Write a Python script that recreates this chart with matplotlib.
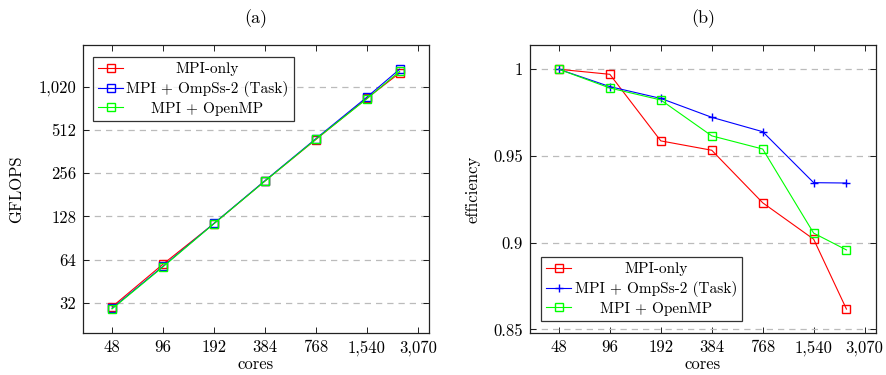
import numpy as np
import matplotlib
matplotlib.use("Agg")
import matplotlib.pyplot as plt
from matplotlib.ticker import FixedLocator, NullLocator

plt.rcParams['font.family'] = ['cmr10', 'DejaVu Serif']
plt.rcParams['mathtext.fontset'] = 'cm'
plt.rcParams['axes.formatter.use_mathtext'] = True

# data
cores = [48, 96, 192, 384, 768, 1536, 2400]
xticks = [48, 96, 192, 384, 768, 1536, 3072]
xtick_labels = ['48', '96', '192', '384', '768', '1,540', '3,070']

gflops_mpi = [30.0, 59.5, 114.0, 226.0, 440.0, 852.0, 1280.0]
gflops_ompss = [29.3, 57.5, 114.5, 227.0, 446.0, 868.0, 1360.0]
gflops_omp = [29.0, 57.0, 114.0, 225.5, 442.0, 845.0, 1315.0]
gf_ticks = [32, 64, 128, 256, 512, 1024]
gf_labels = ['32', '64', '128', '256', '512', '1,020']

eff_mpi = [1.0, 0.9971, 0.9587, 0.9533, 0.9230, 0.9020, 0.8617]
eff_ompss = [1.0, 0.9900, 0.9832, 0.9723, 0.9640, 0.9346, 0.9344]
eff_omp = [1.0, 0.9892, 0.9823, 0.9616, 0.9540, 0.9055, 0.8958]
eff_ticks = [0.85, 0.9, 0.95, 1.0]
eff_labels = ['0.85', '0.9', '0.95', '1']

labels = ['MPI-only', 'MPI + OmpSs-2 (Task)', 'MPI + OpenMP']
colors = ['#ff0000', '#0000ff', '#00ff00']

fig = plt.figure(figsize=(8.86, 3.75), dpi=100)
ax1 = fig.add_axes([0.0937, 0.112, 0.3905, 0.768])
ax2 = fig.add_axes([0.598, 0.112, 0.3905, 0.768])

FS = 12


def style(ax):
    ax.set_xscale('log', base=2)
    ax.xaxis.set_major_locator(FixedLocator(xticks))
    ax.xaxis.set_minor_locator(NullLocator())
    ax.set_xticklabels(xtick_labels)
    ax.set_xlim(48 / 2 ** 0.57, 3072 * 2 ** 0.22)
    ax.tick_params(direction='in', top=True, right=True, length=4, width=0.6,
                   labelsize=FS, colors='black', pad=5)
    ax.tick_params(which='minor', left=False, right=False)
    for s in ax.spines.values():
        s.set_linewidth(0.9)
        s.set_color('#222222')
    ax.yaxis.grid(True, linestyle=(0, (5, 4)), color='#bbbbbb', linewidth=0.9)
    ax.set_axisbelow(True)
    ax.set_xlabel('cores', fontsize=FS, labelpad=1)


def add_legend(ax, loc, anchor):
    leg = ax.legend(loc=loc, bbox_to_anchor=anchor, borderaxespad=0,
                    fontsize=FS - 1, frameon=True, fancybox=False, edgecolor='black',
                    handlelength=1.65, handletextpad=0.2, labelspacing=0.3,
                    borderpad=0.35)
    leg.get_frame().set_linewidth(0.9)
    return leg


# legend labels centred like pgfplots
def center_legend(leg):
    fig.canvas.draw()
    r = fig.canvas.get_renderer()
    texts = leg.get_texts()
    ws = [t.get_window_extent(r).width for t in texts]
    mw = max(ws)
    for t, w in zip(texts, ws):
        t.set_x((mw - w) / 2)


def line(ax, y, i, marker='s'):
    ax.plot(cores, y, color=colors[i], marker=marker, label=labels[i],
            linewidth=0.8, markersize=5.5, markerfacecolor='none',
            markeredgecolor=colors[i], markeredgewidth=1.0)


# (a)
line(ax1, gflops_mpi, 0)
line(ax1, gflops_ompss, 1)
line(ax1, gflops_omp, 2)
style(ax1)
ax1.set_yscale('log', base=2)
ax1.yaxis.set_major_locator(FixedLocator(gf_ticks))
ax1.yaxis.set_minor_locator(NullLocator())
ax1.set_yticklabels(gf_labels)
ax1.set_ylim(32 / 2 ** 0.70, 1024 * 2 ** 0.97)
ax1.set_ylabel('GFLOPS', fontsize=FS, labelpad=10)
ax1.set_title('(a)', fontsize=FS + 1, pad=16)
leg1 = add_legend(ax1, 'upper left', (0.028, 0.958))

# (b)
line(ax2, eff_mpi, 0)
line(ax2, eff_ompss, 1, marker='+')
line(ax2, eff_omp, 2)
style(ax2)
ax2.yaxis.set_major_locator(FixedLocator(eff_ticks))
ax2.set_yticklabels(eff_labels)
ax2.set_ylim(0.8479, 1.014)
ax2.set_ylabel('efficiency', fontsize=FS, labelpad=9)
ax2.set_title('(b)', fontsize=FS + 1, pad=16)
leg2 = add_legend(ax2, 'lower left', (0.032, 0.042))

center_legend(leg1)
center_legend(leg2)

fig.savefig('out.png', dpi=100)
